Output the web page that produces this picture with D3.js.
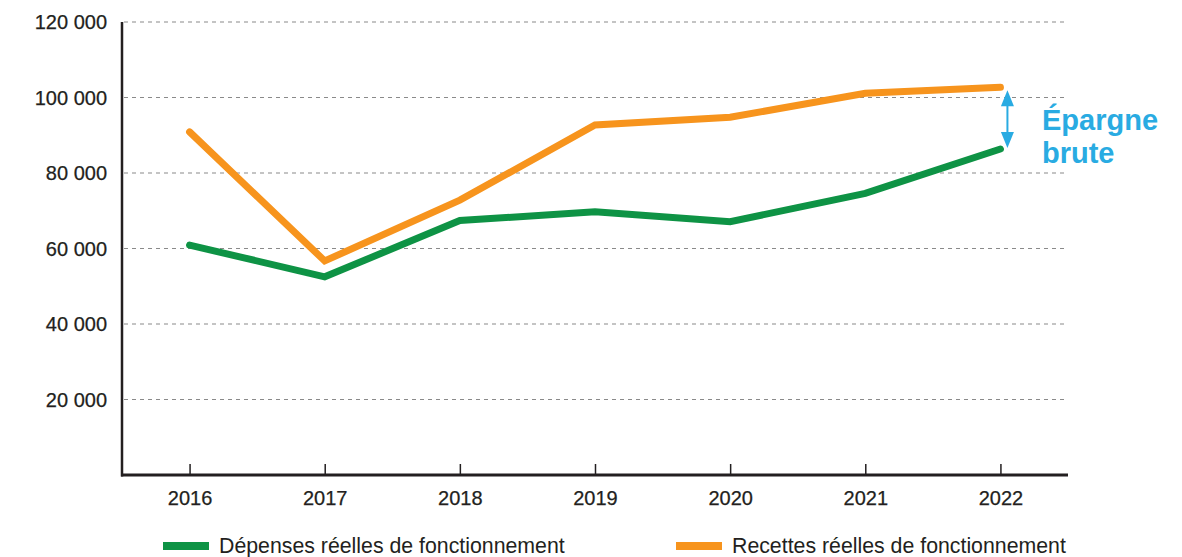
<!DOCTYPE html>
<html><head><meta charset="utf-8">
<script src="https://cdn.jsdelivr.net/npm/d3@7"></script>
<style>
html,body{margin:0;padding:0;background:#fff;}
svg text{font-family:"Liberation Sans",Arial,Helvetica,sans-serif;}
</style></head>
<body>
<svg id="chart" width="1182" height="557"></svg>
<script>
const years = ["2016","2017","2018","2019","2020","2021","2022"];
const depenses = [60900, 52500, 67400, 69750, 67100, 74600, 86350];
const recettes = [90900, 56700, 72800, 92700, 94750, 101100, 102700];
const yTicks = [20000, 40000, 60000, 80000, 100000, 120000];
const seriesNames = ["Dépenses réelles de fonctionnement", "Recettes réelles de fonctionnement"];
const annotationLines = ["Épargne", "brute"];

(function(){
const svg = d3.select("#chart");
const mLeft = 122, mRight = 1068, mTop = 22, mBottom = 475;
const x = d3.scalePoint().domain(years).range([mLeft, mRight]).padding(0.5);
const y = d3.scaleLinear().domain([0, 120000]).range([mBottom, mTop]);
const fmt = v => d3.format(",")(v).replace(/,/g, " ");

// gridlines
svg.append("g").selectAll("line").data(yTicks).join("line")
  .attr("x1", mLeft + 2).attr("x2", mRight)
  .attr("y1", d => y(d)).attr("y2", d => y(d))
  .attr("stroke", "#8a8a8a").attr("stroke-width", 1.2)
  .attr("stroke-dasharray", "4,4");

// y labels
svg.append("g").selectAll("text").data(yTicks).join("text")
  .attr("x", 107).attr("y", d => y(d)).attr("dy", "0.35em")
  .attr("text-anchor", "end").attr("font-size", 20).attr("fill", "#231f20")
  .attr("stroke", "#231f20").attr("stroke-width", 0.25)
  .text(fmt);

// x axis
const xAxis = svg.append("g").attr("transform", `translate(0,${mBottom})`)
  .call(d3.axisBottom(x).tickSizeInner(-11).tickSizeOuter(0).tickPadding(20));
xAxis.select(".domain").attr("stroke", "#231f20").attr("stroke-width", 3)
  .attr("d", `M${mLeft - 1},0H${mRight}`);
xAxis.selectAll(".tick line").attr("stroke", "#231f20").attr("stroke-width", 1.5);
xAxis.selectAll(".tick text").attr("font-size", 20).attr("fill", "#231f20")
  .attr("stroke", "#231f20").attr("stroke-width", 0.25)
  .attr("font-family", "Liberation Sans, Arial, sans-serif").attr("dy", "0.71em").attr("y", 16);

// y axis line
svg.append("line").attr("x1", mLeft).attr("x2", mLeft).attr("y1", y(120000)).attr("y2", mBottom + 1.5)
  .attr("stroke", "#231f20").attr("stroke-width", 2.5);

const line = d3.line().x((d, i) => x(years[i])).y(d => y(d));
const colors = ["#0e9345", "#f7941d"];
[depenses, recettes].forEach((s, k) => {
  svg.append("path").datum(s).attr("d", line).attr("fill", "none")
    .attr("stroke", colors[k]).attr("stroke-width", 7)
    .attr("stroke-linecap", "round").attr("stroke-linejoin", "miter");
});

// annotation arrow
const blue = "#29abe2";
const ax = x("2022") + 7;
const yTop = y(recettes[6]) + 3, yBot = y(depenses[6]) - 1;
svg.append("line").attr("x1", ax).attr("x2", ax).attr("y1", yTop + 10).attr("y2", yBot - 10)
  .attr("stroke", blue).attr("stroke-width", 2);
svg.append("path").attr("d", `M${ax},${yTop}L${ax - 6.5},${yTop + 16}L${ax + 6.5},${yTop + 16}Z`).attr("fill", blue);
svg.append("path").attr("d", `M${ax},${yBot}L${ax - 6.5},${yBot - 16}L${ax + 6.5},${yBot - 16}Z`).attr("fill", blue);
svg.append("g").selectAll("text").data(annotationLines).join("text")
  .attr("x", 1042).attr("y", (d, i) => 130 + i * 33)
  .attr("font-size", 29).attr("font-weight", "bold").attr("fill", blue)
  .text(d => d);

// legend
const legX = [163, 676];
seriesNames.forEach((n, k) => {
  svg.append("rect").attr("x", legX[k]).attr("y", 542).attr("width", 46).attr("height", 8).attr("fill", colors[k]);
  svg.append("text").attr("x", legX[k] + 56).attr("y", 553).attr("font-size", 21.3).attr("fill", "#231f20").text(n);
});
})();
</script>
</body></html>
